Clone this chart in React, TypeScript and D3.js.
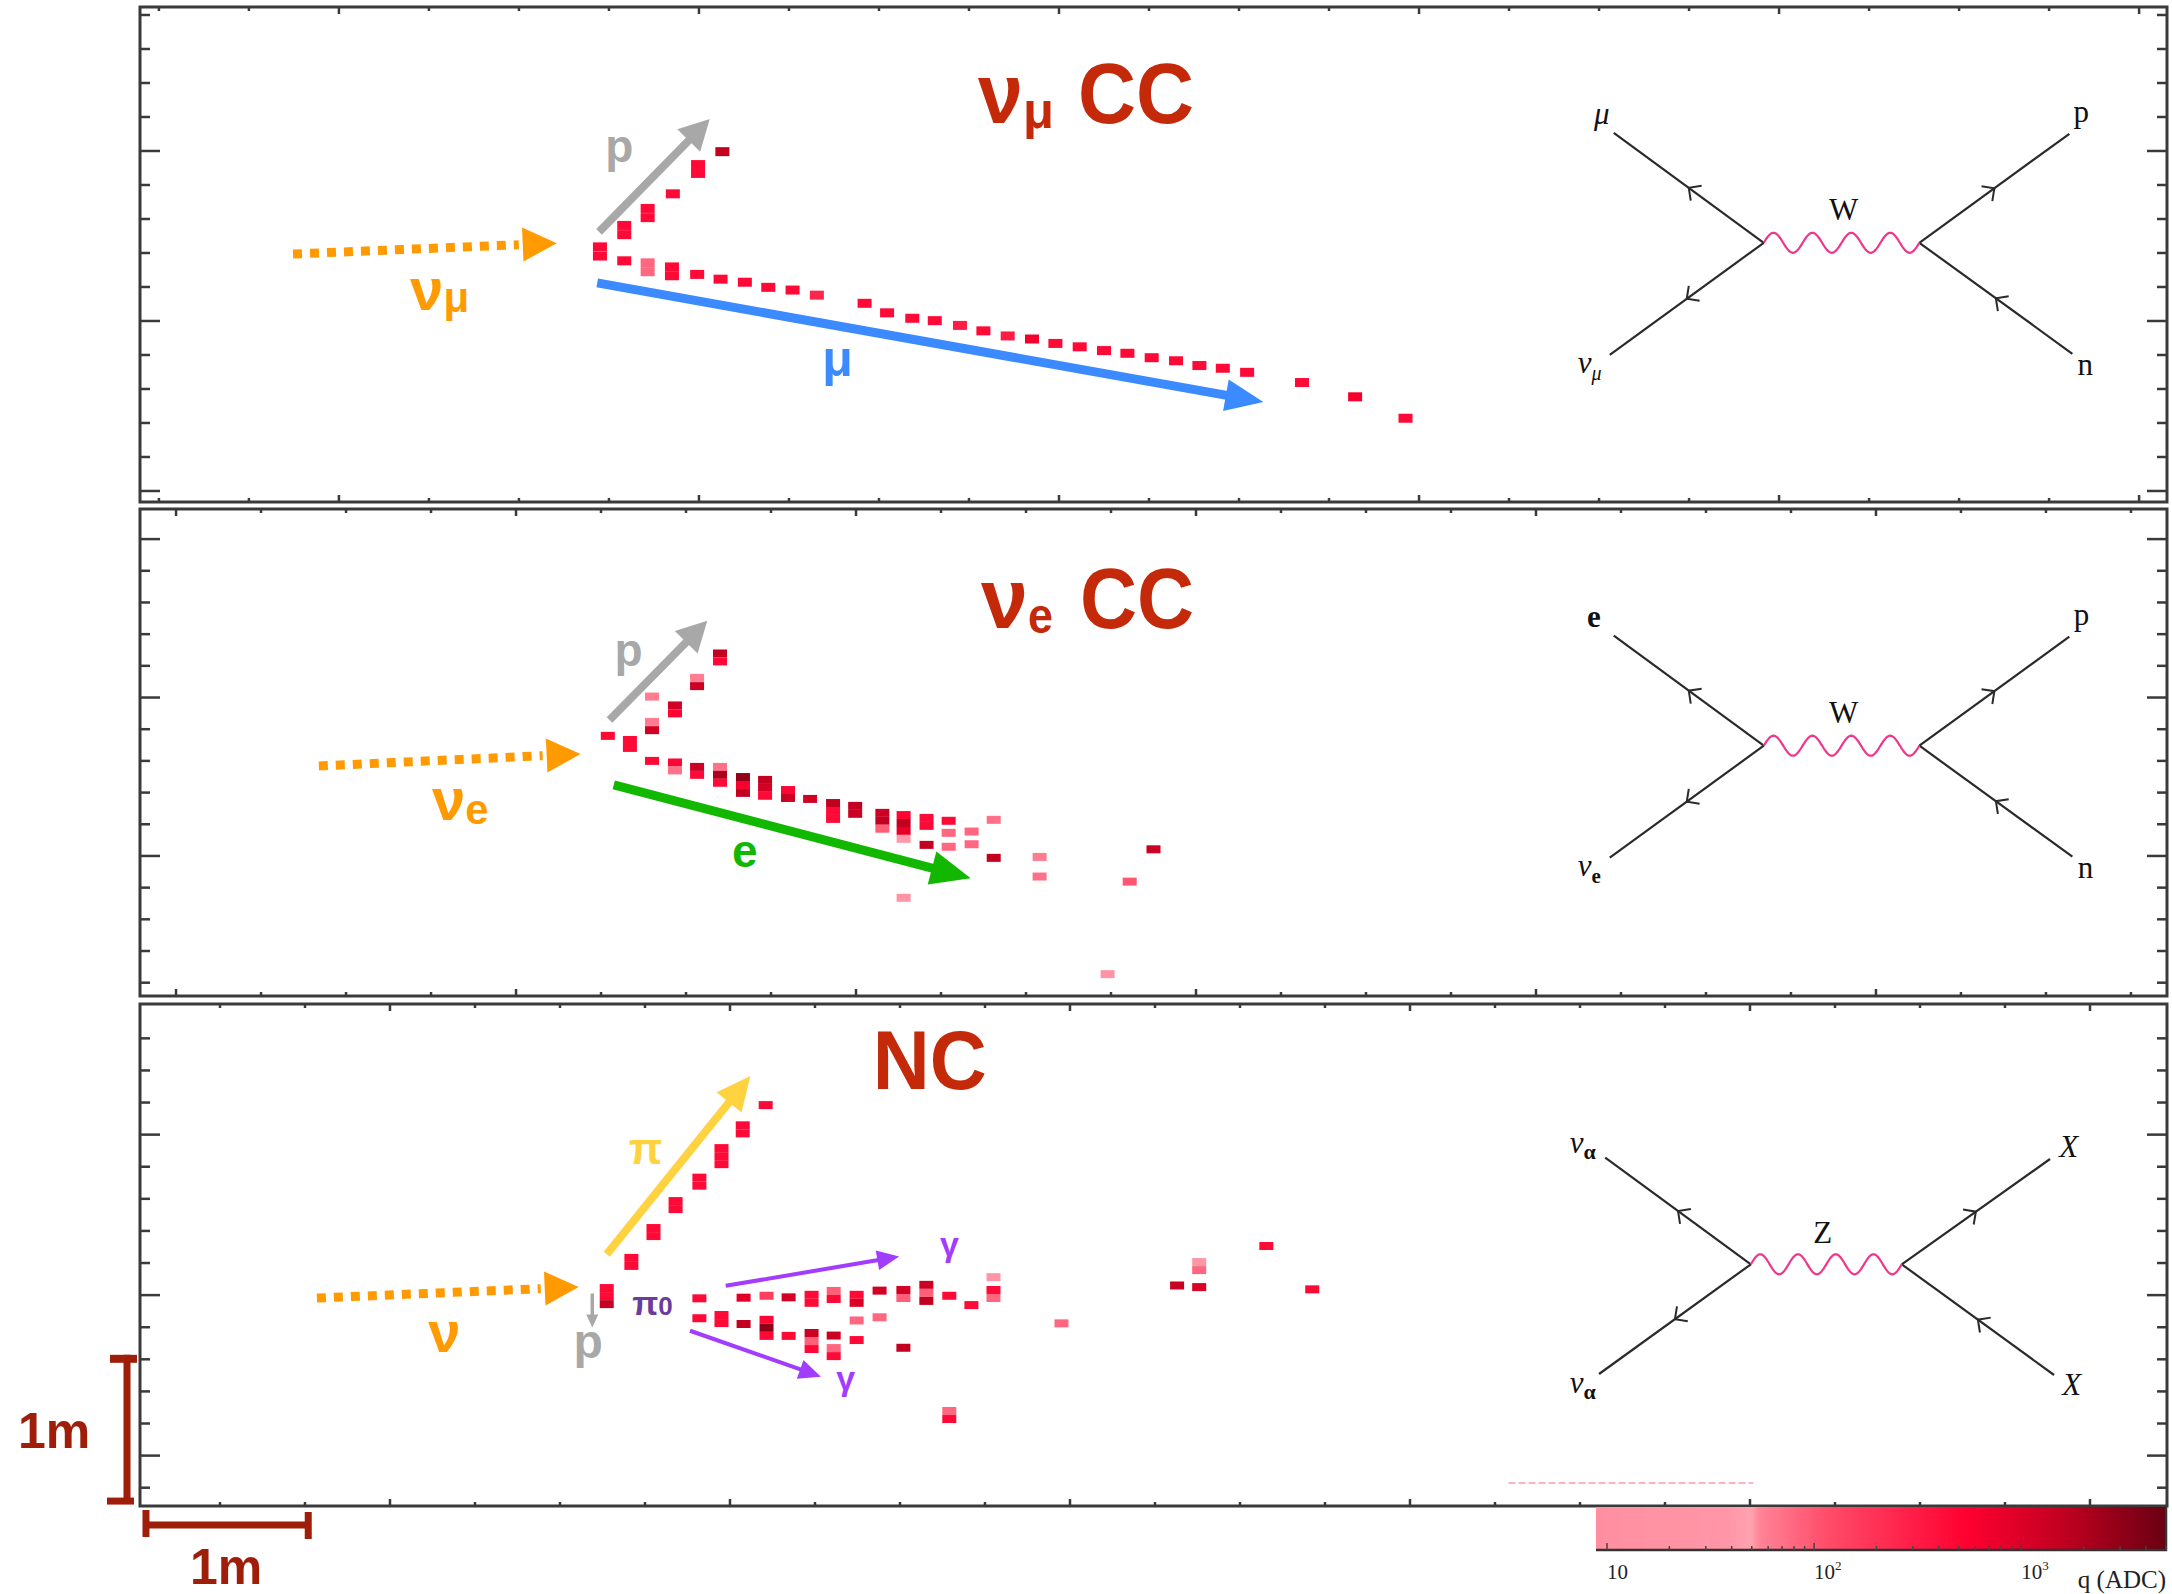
import * as d3 from 'd3';

const WIDTH = 2172;
const HEIGHT = 1594;
const LEFT = 140;
const RIGHT = 2167;

// hits: [wire, drift tick, q (ADC)]  -- one entry per readout cell
const numuHits = [
  [62.6, 99.8, 1500],
  [59.9, 96.0, 450], [59.9, 93.4, 450],
  [57.1, 87.4, 450],
  [54.3, 83.1, 450], [54.3, 80.4, 450],
  [51.7, 78.1, 450], [51.7, 75.4, 450],
  [49.0, 71.8, 450], [49.0, 69.1, 450],
  [51.7, 67.7, 450],
  [54.3, 67.1, 80], [54.3, 64.5, 80],
  [57.0, 65.9, 450], [57.0, 63.3, 450],
  [59.8, 63.7, 450],
  [62.4, 62.3, 450],
  [65.1, 61.4, 450],
  [67.7, 59.9, 450],
  [70.4, 59.1, 450],
  [73.1, 57.6, 250],
  [78.4, 55.2, 450],
  [80.9, 52.4, 450],
  [83.7, 50.8, 450],
  [86.2, 50.1, 450],
  [89.0, 48.7, 300],
  [91.6, 47.1, 450],
  [94.3, 45.6, 300],
  [97.0, 44.7, 650],
  [99.6, 43.4, 450],
  [102.3, 42.4, 450],
  [105.0, 41.3, 450],
  [107.6, 40.5, 450],
  [110.3, 39.2, 450],
  [113.0, 38.3, 450],
  [115.6, 36.9, 450],
  [118.2, 36.1, 450],
  [120.9, 34.9, 450],
  [127.0, 31.9, 450],
  [132.9, 27.7, 650],
  [138.5, 21.4, 450],
];

const nueHits = [
  [64.0, 63.9, 1500], [64.0, 61.4, 450],
  [61.3, 56.2, 60], [61.3, 53.6, 1300],
  [56.0, 50.3, 60],
  [58.7, 47.5, 1200], [58.7, 45.0, 500],
  [56.0, 42.3, 60], [56.0, 39.7, 1200],
  [53.4, 36.6, 450], [53.4, 34.1, 450],
  [50.8, 37.9, 450],
  [56.0, 30.0, 450],
  [58.7, 29.5, 500], [58.7, 27.0, 70],
  [61.3, 28.1, 1300], [61.3, 25.6, 450],
  [64.0, 28.1, 70], [64.0, 25.6, 2000], [64.0, 23.1, 450],
  [66.7, 24.9, 3000], [66.7, 22.4, 600], [66.7, 19.9, 1500],
  [69.3, 24.0, 1500], [69.3, 21.5, 1200], [69.3, 19.0, 450],
  [72.0, 20.8, 500], [72.0, 18.3, 1300],
  [74.6, 18.0, 1200],
  [77.3, 16.7, 1500], [77.3, 14.2, 450], [77.3, 11.7, 450],
  [79.9, 15.8, 1500], [79.9, 13.3, 1300],
  [83.1, 13.6, 1300], [83.1, 11.1, 1500], [83.1, 8.6, 90],
  [85.6, 12.9, 500], [85.6, 10.4, 1500], [85.6, 7.9, 800], [85.6, 5.4, 40],
  [88.3, 12.0, 450], [88.3, 9.5, 450],
  [88.3, 3.5, 1500],
  [90.9, 11.1, 450],
  [90.9, 7.3, 80],
  [90.9, 2.9, 80],
  [93.6, 7.7, 80],
  [93.6, 3.7, 80],
  [96.2, 11.4, 70],
  [96.2, -0.6, 1500],
  [101.6, -0.3, 60],
  [101.6, -6.5, 70],
  [85.6, -13.2, 25],
  [112.2, -8.1, 100],
  [115.0, 2.1, 1300],
  [109.6, -37.3, 25],
];

const ncHits = [
  [84.2, 109.2, 450],
  [81.5, 102.9, 450], [81.5, 100.4, 450],
  [79.0, 95.8, 450], [79.0, 93.3, 450], [79.0, 90.8, 450],
  [76.4, 86.6, 450], [76.4, 84.1, 450],
  [73.6, 79.3, 450], [73.6, 76.8, 450],
  [71.0, 70.9, 450], [71.0, 68.4, 450],
  [68.4, 61.6, 450], [68.4, 59.1, 450],
  [65.5, 52.2, 450], [65.5, 49.7, 450], [65.5, 47.2, 1400],
  [76.4, 49.0, 450],
  [81.6, 49.2, 900],
  [84.3, 49.8, 150],
  [86.9, 49.3, 1200],
  [89.6, 50.1, 450], [89.6, 47.6, 450],
  [92.2, 51.3, 90], [92.2, 48.8, 450],
  [94.9, 50.1, 450], [94.9, 47.6, 1000],
  [97.6, 51.4, 1200],
  [100.4, 51.6, 1200], [100.4, 49.1, 90],
  [103.1, 53.2, 1300], [103.1, 50.7, 90], [103.1, 48.2, 1500],
  [105.8, 49.8, 450],
  [108.4, 46.9, 450],
  [111.0, 55.6, 35], [111.0, 51.6, 450], [111.0, 49.1, 80],
  [76.4, 42.8, 450],
  [79.0, 43.8, 450], [79.0, 41.3, 450],
  [81.6, 41.0, 1500],
  [84.3, 42.3, 500], [84.3, 39.8, 3000], [84.3, 37.3, 450],
  [86.9, 37.3, 450],
  [89.6, 38.2, 1300], [89.6, 35.7, 90], [89.6, 33.2, 450],
  [92.2, 37.4, 1300],
  [92.2, 33.5, 80], [92.2, 31.0, 450],
  [94.9, 36.0, 450],
  [94.9, 42.1, 80],
  [97.6, 43.1, 80],
  [100.4, 33.6, 1500],
  [119.0, 41.2, 80],
  [105.8, 13.9, 80], [105.8, 11.4, 450],
  [132.6, 53.0, 1400],
  [135.2, 52.5, 1000],
  [135.2, 60.3, 35], [135.2, 57.8, 80],
  [143.1, 65.3, 450],
  [148.5, 51.8, 450],
];

// tracks drawn over the hits: [kind, w0, t0, w1, t1]
const numuTracks = [
  ['beam', 14.9, 69.7, 44.2, 72.9],
  ['proton', 48.9, 76.2, 61.2, 109.4],
  ['muon', 48.7, 61.2, 122.7, 26.2],
];
const nueTracks = [
  ['beam', 16.8, 28.4, 47.6, 32.2],
  ['proton', 51.0, 42.9, 62.5, 74.2],
  ['electron', 51.5, 22.4, 93.5, -7.0],
];
const ncTracks = [
  ['beam', 31.4, 49.1, 62.2, 52.5],
  ['pion', 65.5, 62.7, 82.4, 118.3],
  ['smallp', 63.8, 50.5, 63.8, 39.9],
  ['gamma', 79.5, 52.9, 99.9, 62.0],
  ['gamma', 75.3, 38.9, 90.7, 24.6],
];

// label anchors [w, t] (start of text, baseline)
const numuLabels = { nu: [27.9, 53.2], p: [49.6, 96.8], mu: [73.7, 33.8], title: [91.0, 108.2], vertex: [178.3, 73.0] };
const nueLabels = { nu: [30.1, 11.4], p: [51.6, 59.9], e: [65.4, -3.5], title: [94.7, 71.9], vertex: [186.8, 34.8] };
const ncLabels = {
  nu: [44.5, 32.3], pi: [68.1, 90.8], p: [61.6, 30.4], pi0: [68.5, 43.8],
  g1: [104.7, 62.2], g2: [92.5, 20.5], title: [96.8, 114.2], vertex: [200.1, 59.6],
};

// colour scale of the charge
const qStops = [8.85, 38, 50, 54, 120, 550, 1600, 5000];
const qColors = ['#ff8fa0', '#ff96a7', '#ffa3b0', '#ff8497', '#ff4a68', '#ff0030', '#c00020', '#6a0012'];
const cbTicks = [10, 100, 1000];
const cbTickLabels = ['10', '10', '10'];
const cbTickSup = ['', '2', '3'];

// 1 m scale bars in NC panel units
const meterX = [10.94, 30.5];
const meterY = [-15.1, 31.4];

const frames = [
  { top: 7, bottom: 502, xDomain: [-2.1, 223.1], yDomain: [-3.24, 142.35], xTicks: d3.range(0, 221, 10), xMajor: 20, yTicks: d3.range(0, 141, 10), cellH: 9 },
  { top: 509, bottom: 996, xDomain: [-4.24, 234.24], yDomain: [-44.2, 109.5], xTicks: d3.range(0, 231, 10), xMajor: 0, yTicks: d3.range(-40, 101, 10), cellH: 8 },
  { top: 1004, bottom: 1506, xDomain: [10.59, 249.06], yDomain: [-15.7, 140.7], xTicks: d3.range(20, 241, 10), xMajor: 0, yTicks: d3.range(-10, 131, 10), cellH: 8 },
];

const trackStyle: Record<string, any> = {
  beam: { color: '#ff9a00', sw: 9, hl: 34, hw: 17, dash: '9 8' },
  proton: { color: '#a8a8a8', sw: 8, hl: 30, hw: 16 },
  muon: { color: '#3b8aff', sw: 9, hl: 38, hw: 16 },
  electron: { color: '#12b800', sw: 9, hl: 40, hw: 17 },
  pion: { color: '#ffd240', sw: 8, hl: 34, hw: 16 },
  smallp: { color: '#a8a8a8', sw: 3.5, hl: 13, hw: 6 },
  gamma: { color: '#a23cff', sw: 4, hl: 22, hw: 10 },
};

const SANS = "'Liberation Sans Narrow', 'Liberation Sans', Arial, sans-serif";
const SERIF = "'Liberation Serif', 'DejaVu Serif', serif";
const TITLE_RED = '#c42a0a';
const BAR_RED = '#9e1e0a';

const qColor = d3.scaleLog<string>().domain(qStops).range(qColors).interpolate(d3.interpolateRgb).clamp(true);

function Arrow({ x1, y1, x2, y2, s }: any) {
  const len = Math.hypot(x2 - x1, y2 - y1);
  const ux = (x2 - x1) / len, uy = (y2 - y1) / len;
  const bx = x2 - ux * s.hl, by = y2 - uy * s.hl;
  const nx = -uy, ny = ux;
  const gap = s.dash ? 4 : -1;
  return (
    <g>
      <line x1={x1} y1={y1} x2={bx - ux * gap} y2={by - uy * gap} stroke={s.color} strokeWidth={s.sw} strokeDasharray={s.dash} />
      <polygon points={`${x2},${y2} ${bx + nx * s.hw},${by + ny * s.hw} ${bx - nx * s.hw},${by - ny * s.hw}`} fill={s.color} />
    </g>
  );
}

const geom1 = { L: 155.6, ul: [-150, -110], ll: [-154, 112], ur: [150, -109], lr: [153, 111] };
const geom3 = { L: 150.9, ul: [-145.6, -106.6], ll: [-151.8, 109.7], ur: [148.3, -105.3], lr: [152.3, 110.7] };

function Chevron({ px, py, dx, dy }: any) {
  const len = Math.hypot(dx, dy);
  const ux = -dx / len, uy = -dy / len;
  const a = Math.PI / 4, r = 13;
  const p1 = [px + r * (ux * Math.cos(a) - uy * Math.sin(a)), py + r * (ux * Math.sin(a) + uy * Math.cos(a))];
  const p2 = [px + r * (ux * Math.cos(-a) - uy * Math.sin(-a)), py + r * (ux * Math.sin(-a) + uy * Math.cos(-a))];
  return <path d={`M${p1[0]},${p1[1]} L${px},${py} L${p2[0]},${p2[1]}`} fill="none" stroke="#2a2a2a" strokeWidth={2} />;
}

function Feynman({ vx, vy, g, labels }: any) {
  const rx = vx + g.L;
  const wave = d3.line()(d3.range(0, 161).map((i) => [vx + (i / 160) * g.L, vy - 10 * Math.sin((2 * Math.PI * 4 * i) / 160)]));
  const legs = [
    { x0: vx, y0: vy, d: g.ul, out: true },
    { x0: vx, y0: vy, d: g.ll, out: true },
    { x0: rx, y0: vy, d: g.ur, out: true },
    { x0: rx, y0: vy, d: g.lr, out: false },
  ];
  return (
    <g fontFamily={SERIF} fill="#111" fontSize={31}>
      {legs.map((l, i) => (
        <g key={i}>
          <line x1={l.x0} y1={l.y0} x2={l.x0 + l.d[0]} y2={l.y0 + l.d[1]} stroke="#2a2a2a" strokeWidth={2.2} />
          <Chevron px={l.x0 + l.d[0] * 0.5} py={l.y0 + l.d[1] * 0.5} dx={l.out ? l.d[0] : -l.d[0]} dy={l.out ? l.d[1] : -l.d[1]} />
        </g>
      ))}
      <path d={wave || ''} fill="none" stroke="#f0358c" strokeWidth={2.2} />
      {labels(vx, rx, vy)}
    </g>
  );
}

function Frame({ f, children }: any) {
  const xs = d3.scaleLinear().domain(f.xDomain).range([LEFT, RIGHT]);
  const ys = d3.scaleLinear().domain(f.yDomain).range([f.bottom, f.top]);
  const isMajX = (v: number) => (((v - f.xMajor) % 40) + 40) % 40 === 0;
  return (
    <g>
      {children(xs, ys)}
      <rect x={LEFT} y={f.top} width={RIGHT - LEFT} height={f.bottom - f.top} fill="none" stroke="#3a3a3a" strokeWidth={3} />
      {f.yTicks.map((v: number) => {
        const len = v % 50 === 0 ? 20 : 10;
        const y = ys(v);
        return (
          <g key={'y' + v} stroke="#3a3a3a" strokeWidth={2.5}>
            <line x1={LEFT} x2={LEFT + len} y1={y} y2={y} />
            <line x1={RIGHT - len} x2={RIGHT} y1={y} y2={y} />
          </g>
        );
      })}
      {f.xTicks.map((v: number) => {
        const len = isMajX(v) ? 7 : 4;
        const x = xs(v);
        return (
          <g key={'x' + v} stroke="#3a3a3a" strokeWidth={2.5}>
            <line x1={x} x2={x} y1={f.bottom} y2={f.bottom - len} />
            <line x1={x} x2={x} y1={f.top} y2={f.top + len} />
          </g>
        );
      })}
    </g>
  );
}

function Hits({ hits, xs, ys, h }: any) {
  return (
    <g>
      {hits.map((d: number[], i: number) => (
        <rect key={i} x={xs(d[0]) - 7} y={ys(d[1]) - h / 2} width={14} height={h} fill={qColor(d[2])} />
      ))}
    </g>
  );
}

function Tracks({ tracks, xs, ys }: any) {
  return (
    <g>
      {tracks.map((t: any[], i: number) => (
        <Arrow key={i} x1={xs(t[1])} y1={ys(t[2])} x2={xs(t[3])} y2={ys(t[4])} s={trackStyle[t[0]]} />
      ))}
    </g>
  );
}

export default function App() {
  const cbX = d3.scaleLog().domain([8.85, 5000]).range([1596, 2166]);
  const gradStops = d3.range(0, 161).map((i) => {
    const q = Math.exp(Math.log(8.85) + (i / 160) * (Math.log(5000) - Math.log(8.85)));
    return { off: i / 160, c: qColor(q) };
  });
  const cbMinor = [20, 30, 40, 50, 60, 70, 80, 90, 200, 300, 400, 500, 600, 700, 800, 900, 2000, 3000, 4000, 5000];

  return (
    <div style={{ position: 'absolute', left: 0, top: 0 }}>
      <svg width={WIDTH} height={HEIGHT} style={{ display: 'block', background: '#fff' }}>
        <defs>
          <linearGradient id="qgrad" x1="0" x2="1" y1="0" y2="0">
            {gradStops.map((s, i) => (
              <stop key={i} offset={s.off} stopColor={s.c} />
            ))}
          </linearGradient>
        </defs>

        {/* numu CC */}
        <Frame f={frames[0]}>
          {(xs: any, ys: any) => (
            <g>
              <Hits hits={numuHits} xs={xs} ys={ys} h={frames[0].cellH} />
              <Tracks tracks={numuTracks} xs={xs} ys={ys} />
              <g fontFamily={SANS} fontWeight="bold">
                <text x={xs(numuLabels.nu[0])} y={ys(numuLabels.nu[1])} fill="#ff9a00" fontSize={60}>
                  ν<tspan fontSize={42} dy={2}>μ</tspan>
                </text>
                <text x={xs(numuLabels.p[0])} y={ys(numuLabels.p[1])} fill="#a8a8a8" fontSize={46}>p</text>
                <text x={xs(numuLabels.mu[0])} y={ys(numuLabels.mu[1])} fill="#3b8aff" fontSize={50}>μ</text>
                <g fill={TITLE_RED}>
                  <text x={xs(numuLabels.title[0])} y={ys(numuLabels.title[1])} fontSize={86} textLength={45} lengthAdjust="spacingAndGlyphs">ν</text>
                  <text x={xs(numuLabels.title[0]) + 45} y={ys(numuLabels.title[1]) + 5} fontSize={52} textLength={31} lengthAdjust="spacingAndGlyphs">μ</text>
                  <text x={xs(numuLabels.title[0]) + 100} y={ys(numuLabels.title[1])} fontSize={86} textLength={116} lengthAdjust="spacingAndGlyphs">CC</text>
                </g>
              </g>
              <Feynman vx={xs(numuLabels.vertex[0])} vy={ys(numuLabels.vertex[1])} g={geom1} labels={(lx: number, rx: number, vy: number) => (
                <g>
                  <text x={lx - 162} y={vy - 119} textAnchor="middle" fontStyle="italic">μ</text>
                  <text x={lx - 186} y={vy + 130} fontStyle="italic">ν<tspan fontSize={20} dy={7}>μ</tspan></text>
                  <text x={rx + 162} y={vy - 121} textAnchor="middle">p</text>
                  <text x={rx + 166} y={vy + 132} textAnchor="middle">n</text>
                  <text x={(lx + rx) / 2 + 2} y={vy - 23} textAnchor="middle">W</text>
                </g>
              )} />
            </g>
          )}
        </Frame>

        {/* nue CC */}
        <Frame f={frames[1]}>
          {(xs: any, ys: any) => (
            <g>
              <Hits hits={nueHits} xs={xs} ys={ys} h={frames[1].cellH} />
              <Tracks tracks={nueTracks} xs={xs} ys={ys} />
              <g fontFamily={SANS} fontWeight="bold">
                <text x={xs(nueLabels.nu[0])} y={ys(nueLabels.nu[1])} fill="#ff9a00" fontSize={60}>
                  ν<tspan fontSize={42} dy={4}>e</tspan>
                </text>
                <text x={xs(nueLabels.p[0])} y={ys(nueLabels.p[1])} fill="#a8a8a8" fontSize={46}>p</text>
                <text x={xs(nueLabels.e[0])} y={ys(nueLabels.e[1])} fill="#12b800" fontSize={46}>e</text>
                <g fill={TITLE_RED}>
                  <text x={xs(nueLabels.title[0])} y={ys(nueLabels.title[1])} fontSize={86} textLength={47} lengthAdjust="spacingAndGlyphs">ν</text>
                  <text x={xs(nueLabels.title[0]) + 47} y={ys(nueLabels.title[1]) + 5} fontSize={50} textLength={25} lengthAdjust="spacingAndGlyphs">e</text>
                  <text x={xs(nueLabels.title[0]) + 99} y={ys(nueLabels.title[1])} fontSize={86} textLength={114} lengthAdjust="spacingAndGlyphs">CC</text>
                </g>
              </g>
              <Feynman vx={xs(nueLabels.vertex[0])} vy={ys(nueLabels.vertex[1])} g={geom1} labels={(lx: number, rx: number, vy: number) => (
                <g>
                  <text x={lx - 170} y={vy - 119} textAnchor="middle" fontWeight="bold">e</text>
                  <text x={lx - 186} y={vy + 130} fontStyle="italic">ν<tspan fontSize={21} dy={7} fontWeight="bold" fontStyle="normal">e</tspan></text>
                  <text x={rx + 162} y={vy - 121} textAnchor="middle">p</text>
                  <text x={rx + 166} y={vy + 132} textAnchor="middle">n</text>
                  <text x={(lx + rx) / 2 + 2} y={vy - 23} textAnchor="middle">W</text>
                </g>
              )} />
            </g>
          )}
        </Frame>

        {/* NC */}
        <Frame f={frames[2]}>
          {(xs: any, ys: any) => (
            <g>
              <Hits hits={ncHits} xs={xs} ys={ys} h={frames[2].cellH} />
              <line x1={xs(171.6)} x2={xs(200.4)} y1={ys(-8.5)} y2={ys(-8.5)} stroke="#ff9fb0" strokeWidth={2} strokeDasharray="7 3" opacity={0.8} />
              <Tracks tracks={ncTracks} xs={xs} ys={ys} />
              <g fontFamily={SANS} fontWeight="bold">
                <text x={xs(ncLabels.nu[0])} y={ys(ncLabels.nu[1])} fill="#ff9a00" fontSize={58}>ν</text>
                <text x={xs(ncLabels.pi[0])} y={ys(ncLabels.pi[1])} fill="#ffd240" fontSize={44}>π</text>
                <text x={xs(ncLabels.p[0])} y={ys(ncLabels.p[1])} fill="#a8a8a8" fontSize={48}>p</text>
                <text x={xs(ncLabels.pi0[0])} y={ys(ncLabels.pi0[1])} fill="#6a3c9c" fontSize={34}>π<tspan fontSize={26}>0</tspan></text>
                <text x={xs(ncLabels.g1[0])} y={ys(ncLabels.g1[1])} fill="#a23cff" fontSize={34}>γ</text>
                <text x={xs(ncLabels.g2[0])} y={ys(ncLabels.g2[1])} fill="#a23cff" fontSize={34}>γ</text>
                <text x={xs(ncLabels.title[0])} y={ys(ncLabels.title[1])} fill={TITLE_RED} fontSize={84} textLength={114} lengthAdjust="spacingAndGlyphs">NC</text>
              </g>
              <Feynman vx={xs(ncLabels.vertex[0])} vy={ys(ncLabels.vertex[1])} g={geom3} labels={(lx: number, rx: number, vy: number) => (
                <g>
                  <text x={lx - 181} y={vy - 111} fontStyle="italic">ν<tspan fontSize={22} dy={6} fontWeight="bold" fontStyle="normal">α</tspan></text>
                  <text x={lx - 181} y={vy + 129} fontStyle="italic">ν<tspan fontSize={22} dy={6} fontWeight="bold" fontStyle="normal">α</tspan></text>
                  <text x={rx + 167} y={vy - 107} textAnchor="middle" fontStyle="italic">X</text>
                  <text x={rx + 170} y={vy + 131} textAnchor="middle" fontStyle="italic">X</text>
                  <text x={lx + 72} y={vy - 21} textAnchor="middle">Z</text>
                </g>
              )} />
              {/* 1 m scale bars */}
              <g stroke={BAR_RED} fill="none">
                <line x1={127} x2={127} y1={ys(meterY[1])} y2={ys(meterY[0])} strokeWidth={7} />
                <line x1={110} x2={137} y1={ys(meterY[1]) + 4} y2={ys(meterY[1]) + 4} strokeWidth={8} />
                <line x1={107} x2={134} y1={ys(meterY[0]) - 3} y2={ys(meterY[0]) - 3} strokeWidth={7} />
                <line x1={xs(meterX[0])} x2={xs(meterX[1])} y1={1525} y2={1525} strokeWidth={7} />
                <line x1={xs(meterX[0]) + 3} x2={xs(meterX[0]) + 3} y1={1510} y2={1537} strokeWidth={7} />
                <line x1={xs(meterX[1]) - 1} x2={xs(meterX[1]) - 1} y1={1512} y2={1539} strokeWidth={7} />
              </g>
              <g fill={BAR_RED} fontFamily="'Liberation Sans', Arial, sans-serif" fontWeight="bold" fontSize={50}>
                <text x={18} y={1448}>1m</text>
                <text x={190} y={1584}>1m</text>
              </g>
            </g>
          )}
        </Frame>

        {/* colour bar */}
        <rect x={cbX.range()[0]} y={1507} width={cbX.range()[1] - cbX.range()[0]} height={43} fill="url(#qgrad)" />
        <line x1={1596} x2={2167} y1={1550} y2={1550} stroke="#333" strokeWidth={2.5} />
        <line x1={2166} x2={2166} y1={1506} y2={1551} stroke="#333" strokeWidth={2.5} />
        {cbMinor.map((v) => (
          <line key={v} x1={cbX(v)} x2={cbX(v)} y1={1550} y2={1546} stroke="#444" strokeWidth={1.5} />
        ))}
        {cbTicks.map((v, i) => (
          <g key={v}>
            <line x1={cbX(v)} x2={cbX(v)} y1={1550} y2={1543} stroke="#444" strokeWidth={1.5} />
            <text x={cbX(v)} y={1579} fontFamily={SERIF} fontSize={21} fill="#222">
              {cbTickLabels[i]}
              {cbTickSup[i] && <tspan fontSize={13} dy={-9}>{cbTickSup[i]}</tspan>}
            </text>
          </g>
        ))}
        <text x={2166} y={1588} textAnchor="end" fontFamily={SERIF} fontSize={25} fill="#222">q (ADC)</text>
      </svg>
    </div>
  );
}
